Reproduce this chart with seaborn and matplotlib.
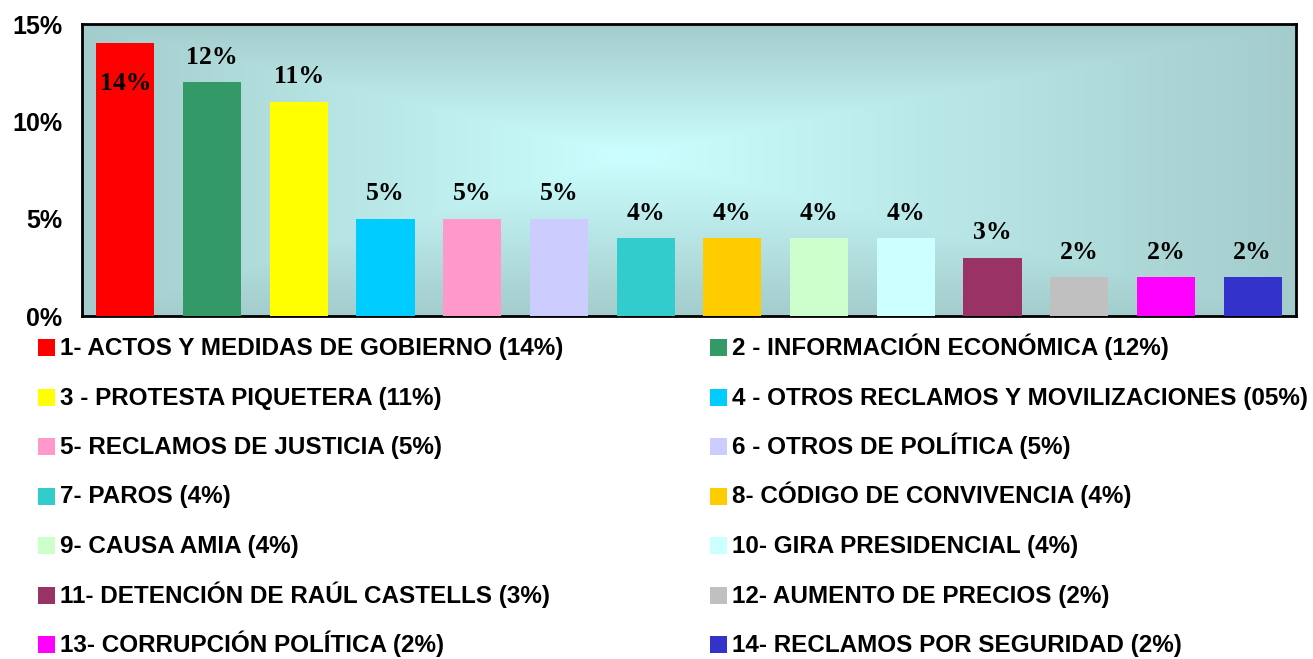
import numpy as np
import pandas as pd
import matplotlib
matplotlib.use("Agg")
import matplotlib.pyplot as plt
import seaborn as sns
from matplotlib.patches import Rectangle
from matplotlib.colors import LinearSegmentedColormap

# data
temas = [
    "1- ACTOS Y MEDIDAS DE GOBIERNO (14%)",
    "2 - INFORMACIÓN ECONÓMICA (12%)",
    "3 - PROTESTA PIQUETERA (11%)",
    "4 - OTROS RECLAMOS Y MOVILIZACIONES (05%)",
    "5- RECLAMOS DE JUSTICIA (5%)",
    "6 - OTROS DE POLÍTICA (5%)",
    "7- PAROS (4%)",
    "8- CÓDIGO DE CONVIVENCIA (4%)",
    "9- CAUSA AMIA (4%)",
    "10- GIRA PRESIDENCIAL (4%)",
    "11- DETENCIÓN DE RAÚL CASTELLS (3%)",
    "12- AUMENTO DE PRECIOS (2%)",
    "13- CORRUPCIÓN POLÍTICA (2%)",
    "14- RECLAMOS POR SEGURIDAD (2%)",
]
porcentajes = [14, 12, 11, 5, 5, 5, 4, 4, 4, 4, 3, 2, 2, 2]
colores = ["#FF0000", "#339966", "#FFFF00", "#00CCFF", "#FF99CC", "#CCCCFF", "#33CCCC",
           "#FFCC00", "#CCFFCC", "#CCFFFF", "#993366", "#C0C0C0", "#FF00FF", "#3333CC"]
yticks = [0, 5, 10, 15]

df = pd.DataFrame({"tema": temas, "pct": porcentajes})

W, H = 1313, 659
fig = plt.figure(figsize=(W / 100, H / 100), dpi=100)
ax = fig.add_axes([82 / W, 1 - 316 / H, (1296 - 82) / W, (316 - 24) / H])

sns.barplot(data=df, x="tema", y="pct", hue="tema", palette=colores, legend=False,
            width=0.67, saturation=1, ax=ax, zorder=3)

# background gradient (path style, light centre)
xs = np.linspace(0, 1, 400)
ys = np.linspace(0, 1, 200)
X, Y = np.meshgrid(xs, ys)
cx, cy = 0.45, 0.55
dx = np.where(X < cx, (cx - X) / cx, (X - cx) / (1 - cx))
dy = np.where(Y < cy, (cy - Y) / cy, (Y - cy) / (1 - cy))
t = np.maximum(dx, dy)
cmap = LinearSegmentedColormap.from_list("bg", ["#CCFFFF", "#A4CCCC"])
ax.imshow(t, cmap=cmap, extent=(-0.5, 13.5, 0, 15), origin="lower", aspect="auto",
          zorder=0, vmin=0, vmax=1, interpolation="bilinear")

ax.set_xlim(-0.5, 13.5)
ax.set_ylim(0, 15)
ax.set_yticks(yticks)
ax.set_yticklabels([f"{v}%" for v in yticks], fontsize=18, fontweight="bold",
                   family="Liberation Sans")
ax.tick_params(axis="y", length=0, pad=14)
ax.set_xticks([])
ax.set_xlabel("")
ax.set_ylabel("")
for s in ax.spines.values():
    s.set_visible(True)
    s.set_color("black")
    s.set_linewidth(2)

# value labels
for i, v in enumerate(porcentajes):
    off = -29 if v >= 14 else 18
    ax.annotate(f"{v}%", (i, v), xytext=(0, off), textcoords="offset points",
                ha="center", va="center", fontsize=18.5, fontweight="bold",
                family="Liberation Serif", zorder=5)

# legend: two columns, seven rows
for k, (tema, c) in enumerate(zip(temas, colores)):
    col, row = k % 2, k // 2
    x0 = [38, 710][col]
    yb = 355 + 49.5 * row
    fig.patches.append(Rectangle((x0 / W, 1 - (yb + 1) / H), 17 / W, 17 / H,
                                 transform=fig.transFigure, facecolor=c,
                                 edgecolor="none"))
    fig.text((x0 + 22) / W, 1 - yb / H, tema, ha="left", va="baseline",
             fontsize=17.5, fontweight="bold", family="Liberation Sans")

fig.savefig("out.png", dpi=100)
